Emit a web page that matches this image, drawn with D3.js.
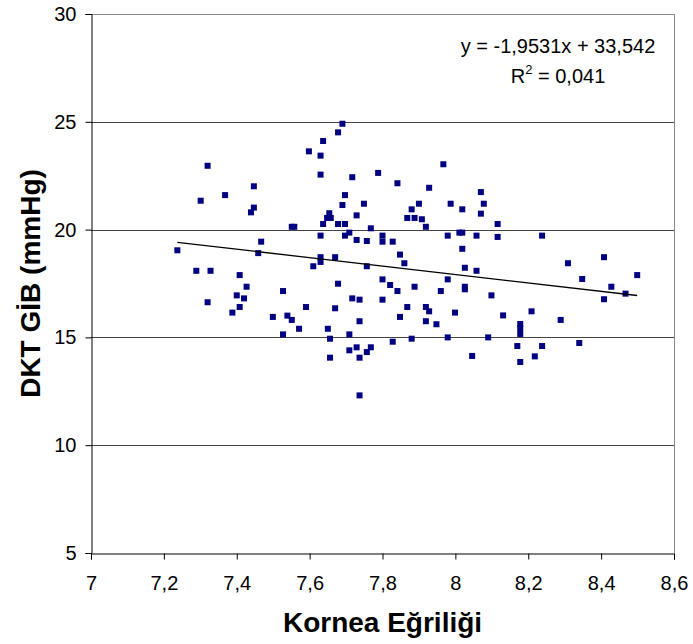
<!DOCTYPE html>
<html><head><meta charset="utf-8">
<script src="https://cdn.jsdelivr.net/npm/d3@7"></script>
<style>body{margin:0;background:#fff;}svg{display:block;}</style>
</head><body>
<script>
const xTicks = [7, 7.2, 7.4, 7.6, 7.8, 8, 8.2, 8.4, 8.6];
const yTicks = [5, 10, 15, 20, 25, 30];
const xValues = [7.237,7.289,7.328,7.301,7.320,7.320,7.368,7.388,7.400,7.408,7.408,7.420,7.427,7.439,7.447,7.447,7.459,7.467,7.499,7.527,7.527,7.539,7.551,7.558,7.551,7.571,7.590,7.598,7.610,7.630,7.630,7.630,7.630,7.630,7.637,7.637,7.648,7.650,7.654,7.658,7.656,7.656,7.670,7.670,7.678,7.678,7.678,7.690,7.690,7.697,7.697,7.697,7.709,7.709,7.709,7.717,7.717,7.729,7.729,7.729,7.737,7.737,7.737,7.737,7.749,7.757,7.757,7.757,7.768,7.768,7.788,7.800,7.800,7.800,7.800,7.821,7.828,7.828,7.841,7.841,7.848,7.848,7.860,7.868,7.868,7.880,7.880,7.888,7.888,7.900,7.908,7.919,7.919,7.928,7.919,7.928,7.948,7.960,7.967,7.979,7.979,7.979,7.987,7.999,8.011,8.019,8.019,8.019,8.026,8.026,8.026,8.046,8.058,8.058,8.070,8.070,8.078,8.090,8.099,8.116,8.116,8.131,8.170,8.178,8.178,8.178,8.178,8.209,8.218,8.238,8.238,8.289,8.309,8.340,8.348,8.408,8.408,8.428,8.467,8.499];
const yValues = [19.04,18.09,18.09,21.34,22.96,16.63,21.60,16.15,16.95,17.89,16.41,16.81,17.35,20.80,21.02,22.01,18.91,19.44,15.95,17.15,15.14,16.01,20.13,20.13,15.81,15.40,16.41,23.63,18.30,23.43,22.55,19.72,18.72,18.50,24.11,20.26,20.54,15.40,20.76,20.54,14.94,14.06,18.72,16.35,24.51,20.26,17.49,24.91,21.14,21.60,20.26,19.72,19.86,15.14,14.40,22.43,16.81,20.66,19.52,14.54,16.75,15.75,14.06,12.31,21.20,19.47,18.30,14.32,20.06,14.54,22.63,19.72,19.44,17.69,16.75,17.43,19.44,14.80,22.15,17.15,18.84,15.95,18.44,20.54,16.41,20.94,14.94,20.54,17.35,21.20,20.48,20.13,16.41,16.21,15.75,21.94,15.61,17.15,23.03,19.72,17.69,15.00,21.20,16.15,19.86,19.86,20.94,19.11,18.23,17.35,17.23,14.14,19.72,18.09,21.74,20.74,21.20,15.00,16.95,20.26,19.66,16.02,14.60,15.62,15.42,15.16,13.86,16.21,14.12,19.72,14.60,15.81,18.44,14.74,17.71,18.72,16.77,17.35,17.03,17.89];
const trendSlope = -1.9531;
const trendIntercept = 33.542;
const equationLines = ["y = -1,9531x + 33,542", "R", " = 0,041"];

const W = 693, H = 644;
const m = {left: 91, right: 674, top: 14, bottom: 553};
const svg = d3.select("body").append("svg").attr("width", W).attr("height", H);
const x = d3.scaleLinear().domain([7, 8.6]).range([m.left, m.right]);
const y = d3.scaleLinear().domain([5, 30]).range([m.bottom, m.top]);
const fmt = d => String(d).replace(".", ",");
const font = "Arial, 'Liberation Sans', sans-serif";

// gridlines
svg.append("g").selectAll("line").data(yTicks.filter(d => d > 5)).join("line")
  .attr("x1", m.left).attr("x2", m.right)
  .attr("y1", d => Math.round(y(d)) + 0.5).attr("y2", d => Math.round(y(d)) + 0.5)
  .attr("stroke", "#444").attr("stroke-width", 1);
// top / right border
svg.append("line").attr("x1", m.left).attr("x2", m.right + 0.5).attr("y1", m.top + 0.5).attr("y2", m.top + 0.5).attr("stroke", "#888");
svg.append("line").attr("x1", m.right + 0.5).attr("x2", m.right + 0.5).attr("y1", m.top).attr("y2", m.bottom).attr("stroke", "#888");

// axes
const yAxis = svg.append("g").attr("transform", `translate(${m.left + 0.5},0)`)
  .call(d3.axisLeft(y).tickValues(yTicks).tickSize(6).tickPadding(9).tickFormat(fmt));
const xAxis = svg.append("g").attr("transform", `translate(0,${m.bottom + 0.5})`)
  .call(d3.axisBottom(x).tickValues(xTicks).tickSize(6).tickPadding(16).tickFormat(fmt));
[yAxis, xAxis].forEach(g => {
  g.select(".domain").attr("stroke", "#000");
  g.selectAll(".tick line").attr("stroke", "#000");
  g.selectAll("text").attr("font-family", font).attr("font-size", 20).attr("fill", "#000");
});

// points
svg.append("g").selectAll("rect").data(xValues.map((v, i) => [v, yValues[i]])).join("rect")
  .attr("x", d => x(d[0]) - 3).attr("y", d => y(d[1]) - 3)
  .attr("width", 6).attr("height", 6).attr("fill", "#000080");

// trendline
const xMin = d3.min(xValues), xMax = d3.max(xValues);
svg.append("line")
  .attr("x1", x(xMin)).attr("y1", y(trendSlope * xMin + trendIntercept))
  .attr("x2", x(xMax)).attr("y2", y(trendSlope * xMax + trendIntercept))
  .attr("stroke", "#000").attr("stroke-width", 1.3);

// equation
svg.append("text").attr("x", 558).attr("y", 53).attr("text-anchor", "middle")
  .attr("font-family", font).attr("font-size", 20).text(equationLines[0]);
const r2 = svg.append("text").attr("x", 558).attr("y", 83).attr("text-anchor", "middle")
  .attr("font-family", font).attr("font-size", 20);
r2.append("tspan").text(equationLines[1]);
r2.append("tspan").attr("dy", -9).attr("font-size", 13).text("2");
r2.append("tspan").attr("dy", 9).text(equationLines[2]);

// axis titles
svg.append("text").attr("x", (m.left + m.right) / 2).attr("y", 632).attr("text-anchor", "middle")
  .attr("font-family", font).attr("font-weight", "bold").attr("font-size", 28).text("Kornea Eğriliği");
svg.append("text").attr("transform", `translate(40,${(m.top + m.bottom) / 2}) rotate(-90)`)
  .attr("text-anchor", "middle").attr("font-family", font).attr("font-weight", "bold")
  .attr("font-size", 28).text("DKT GİB (mmHg)");
</script>
</body></html>
